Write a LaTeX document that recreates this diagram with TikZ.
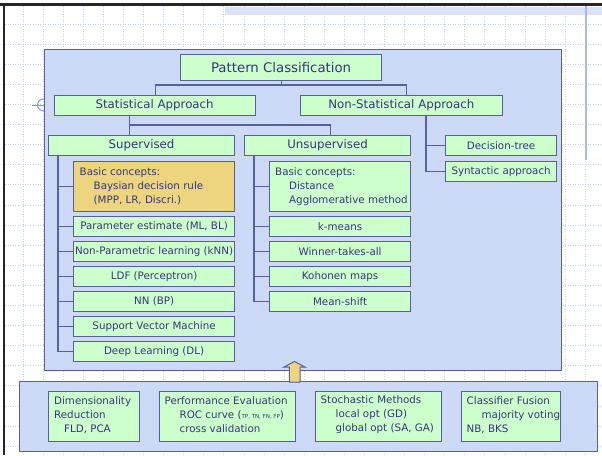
\documentclass[tikz,border=0pt]{standalone}
\usepackage{fontspec}
\setmainfont{DejaVu Sans}
\usetikzlibrary{calc}
\definecolor{bgbox}{HTML}{CCDAF8}
\definecolor{edge}{HTML}{5A5E9C}
\definecolor{grn}{HTML}{CCFFCC}
\definecolor{tanc}{HTML}{EDD580}
\definecolor{txt}{HTML}{34367A}
\definecolor{gridc}{HTML}{C4D0F2}
\definecolor{bandc}{HTML}{DCE3F6}
\definecolor{rline}{HTML}{A9B8F0}
\newcommand\bx[7]{\node[#6,anchor=north west,minimum width={#4-#2},minimum height={#5-#3}] (#1) at (#2,#3) {#7};}
\tikzset{
  box/.style={draw=edge, line width=1.2pt, fill=grn, inner sep=0pt, text=txt, font=\fontsize{10.3}{14}\selectfont},
  tanbox/.style={box, fill=tanc},
  lvl/.style={box, font=\fontsize{11.8}{14}\selectfont},
  topbox/.style={box, font=\fontsize{13.3}{16}\selectfont},
  panel/.style={draw=edge, line width=1.2pt, fill=bgbox, inner sep=0pt},
  conn/.style={draw=edge, line width=1.2pt},
  lbl/.style={text=txt, font=\fontsize{10.3}{14}\selectfont, inner sep=0pt, align=left, anchor=west},
  gridline/.style={draw=gridc, line width=0.7pt, dash pattern=on 1pt off 1.5pt}
}
\begin{document}
\begin{tikzpicture}[x=1pt,y=-1pt]
\useasboundingbox (0,0) rectangle (602,455);
\fill[white] (0,0) rectangle (602,455);
% grid
\foreach \i in {0,...,28} \draw[gridline] (23+20.08*\i,6) -- (23+20.08*\i,455);
\foreach \j in {0,...,21} \draw[gridline] (5,24+20.1*\j) -- (602,24+20.1*\j);
% top band and frame
\fill[bandc] (225,7) rectangle (602,15);
\draw[rline, line width=1.5pt] (586,6) -- (586,160);
\draw[black!85, line width=2.5pt] (0,4.5) -- (602,4.5);
\draw[black!85, line width=2.5pt] (4,4.5) -- (4,455);
% crosshair mark
\draw[rline!80!blue, line width=0.9pt] (43.5,105) circle (6);
\draw[rline!80!blue, line width=0.9pt] (32,105) -- (43.5,105);
% panels
\bx{MAIN}{43.5}{49}{561}{370}{panel}{}
\bx{BOT}{18.5}{381}{597}{451}{panel}{}
% tree boxes
\bx{PC}{180}{54}{381}{80}{topbox}{Pattern Classification}
\bx{SA}{53.5}{95}{254.5}{115}{lvl}{Statistical Approach}
\bx{NS}{300}{95}{501.5}{115}{lvl}{Non-Statistical Approach}
\bx{SUP}{48}{135}{234}{155}{lvl}{Supervised}
\bx{UNS}{244}{135}{410}{155}{lvl}{Unsupervised}
\bx{DT}{445}{135}{556}{155}{box}{Decision-tree}
\bx{SY}{445}{161}{556}{181}{box}{Syntactic approach}
\bx{BC1}{73}{161}{234}{211}{tanbox}{}
\bx{PE}{73}{216}{234}{236}{box}{Parameter estimate (ML, BL)}
\bx{NP}{73}{241}{234}{261}{box}{Non-Parametric learning (kNN)}
\bx{LDF}{73}{266}{234}{286}{box}{LDF (Perceptron)}
\bx{NN}{73}{291}{234}{311}{box}{NN (BP)}
\bx{SVM}{73}{316}{234}{336}{box}{Support Vector Machine}
\bx{DL}{73}{341}{234}{361}{box}{Deep Learning (DL)}
\bx{BC2}{269}{161}{410}{211}{box}{}
\bx{KM}{269}{216}{410}{236}{box}{k-means}
\bx{WTA}{269}{241}{410}{261}{box}{Winner-takes-all}
\bx{KOH}{269}{266}{410}{286}{box}{Kohonen maps}
\bx{MS}{269}{291}{410}{311}{box}{Mean-shift}
\bx{DR}{48}{391}{139}{441}{box}{}
\bx{PEV}{159}{391}{295}{441}{box}{}
\bx{SM}{315}{391}{441}{441}{box}{}
\bx{CF}{461}{391}{560}{441}{box}{}
% multi-line texts
\node[lbl] (tBC1) at ([xshift=6.5]BC1.west) {Basic concepts:\\\hspace*{14pt}Baysian decision rule\\\hspace*{14pt}(MPP, LR, Discri.)};
\node[lbl] (tBC2) at ([xshift=6]BC2.west) {Basic concepts:\\\hspace*{14pt}Distance\\\hspace*{14pt}Agglomerative method};
\node[lbl] (tDR) at ([xshift=6,yshift=1.5]DR.west) {Dimensionality\\Reduction\\\hspace*{10pt}FLD, PCA};
\node[lbl] (tPEV) at ([xshift=5.5,yshift=1.5]PEV.west) {Performance Evaluation\\\hspace*{15pt}ROC curve ({\fontsize{5.5}{6}\selectfont TP, TN, FN, FP})\\\hspace*{15pt}cross validation};
\node[lbl] (tSM) at ([xshift=5.5,yshift=1.5]SM.west) {Stochastic Methods\\\hspace*{15pt}local opt (GD)\\\hspace*{15pt}global opt (SA, GA)};
\node[lbl] (tCF) at ([xshift=5.5,yshift=1.5]CF.west) {Classifier Fusion\\\hspace*{15pt}majority voting\\NB, BKS};
% connectors
\draw[conn] (PC.south) -- ++(0,5);
\draw[conn] ([xshift=1]SA.north) -- ++(0,-10) -| ([xshift=5]NS.north);
\coordinate (s1) at (129.5,125);
\draw[conn] (SA.south -| s1) -- (SUP.north -| s1);
\draw[conn] (s1) -| ([xshift=3]UNS.north);
\coordinate (n1) at (426,0);
\draw[conn] (NS.south -| n1) |- (DT.west);
\draw[conn] (NS.south -| n1) |- (SY.west);
\coordinate (sv) at (58,0);
\draw[conn] (SUP.south -| sv) |- (DL.west);
\foreach \n in {BC1,PE,NP,LDF,NN,SVM} \draw[conn] (\n.west -| sv) -- (\n.west);
\coordinate (uv) at (254,0);
\draw[conn] (UNS.south -| uv) |- (MS.west);
\foreach \n in {BC2,KM,WTA,KOH} \draw[conn] (\n.west -| uv) -- (\n.west);
% up arrow from bottom panel to main panel
\draw[draw=edge, fill=tanc, line width=1pt] (289.3,382) -- (289.3,367) -- (284,367) -- (294.5,361.5) -- (305,367) -- (300,367) -- (300,382) -- cycle;
\end{tikzpicture}
\end{document}
